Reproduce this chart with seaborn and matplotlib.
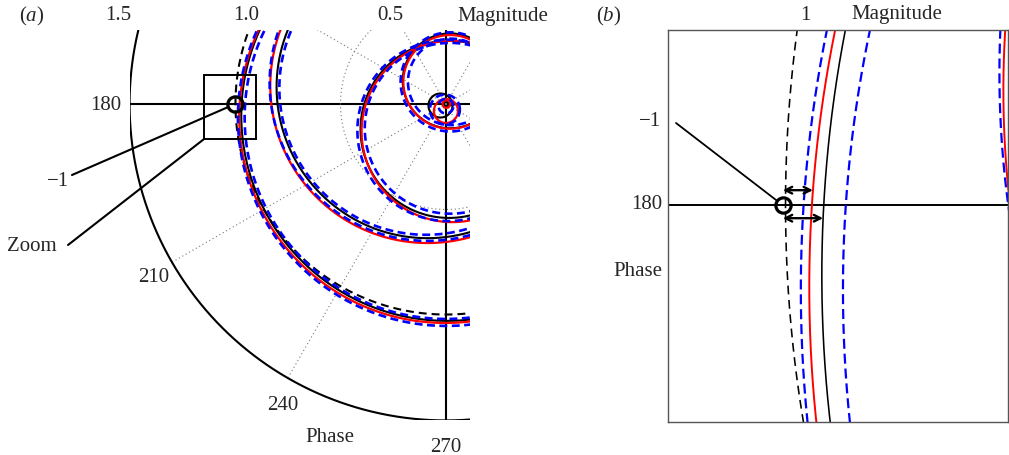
import numpy as np
import pandas as pd
import matplotlib
matplotlib.use("Agg")
import matplotlib.pyplot as plt
from matplotlib.patches import Rectangle
import seaborn as sns

sns.set_style("white")
plt.rcParams["font.family"] = ["Liberation Serif", "DejaVu Serif"]
plt.rcParams["mathtext.fontset"] = "custom"
plt.rcParams["mathtext.rm"] = "Liberation Serif"
plt.rcParams["mathtext.it"] = "Liberation Serif:italic"

# Nyquist loops: centre x, centre y, radius (magnitude units)
# loops in order: outer, second, third, fourth, small, tiny
red_cx = [-0.004, -0.087, 0.03, 0.02, 0.0, 0.002]
red_cy = [-0.062, 0.087, -0.13, 0.105, -0.033, 0.0]
red_r = [0.976, 0.746, 0.43, 0.222, 0.057, 0.018]

black_cx = [0.0045, -0.087, 0.015, 0.02, -0.026, 0.0]
black_cy = [-0.053, 0.08, -0.12, 0.11, -0.007, 0.0]
black_r = [0.975, 0.716, 0.42, 0.225, 0.057, 0.012]

blue_out_cx = [0.0016, -0.087, 0.01, 0.02, -0.005]
blue_out_cy = [-0.064, 0.10, -0.125, 0.105, -0.026]
blue_out_r = [0.988, 0.749, 0.43, 0.235, 0.071]

blue_in_cx = [0.0005, -0.095, 0.02, 0.025, 0.0]
blue_in_cy = [-0.064, 0.075, -0.115, 0.105, -0.01]
blue_in_r = [0.955, 0.695, 0.405, 0.205, 0.035]

unit_radius = [0.998]          # black dashed ring |L| = 1

outer_radius = 1.5
grid_radii = [0.5]
grid_angles = [30, 60, 120, 150, 210, 240, 300, 330]

view_a_x = [-1.498, 0.114]
view_a_y = [-1.498, 0.351]
view_b_x = [-1.087, -0.8295]
view_b_y = [-0.164, 0.1326]
zoom_x = [-1.147, -0.902]
zoom_y = [-0.166, 0.137]
arrow_y = [0.0114, -0.0098]    # upper arrow to red loop, lower to black loop

W, H = 1009, 455


def loops(cx, cy, r):
    t = np.linspace(0, 2 * np.pi, 1441)
    frames = []
    for i, (x0, y0, rr) in enumerate(zip(cx, cy, r)):
        frames.append(pd.DataFrame({"x": x0 + rr * np.cos(t),
                                    "y": y0 + rr * np.sin(t), "loop": i}))
    return pd.concat(frames, ignore_index=True)


red_df = loops(red_cx, red_cy, red_r)
black_df = loops(black_cx, black_cy, black_r)
blue_df = loops(blue_out_cx + blue_in_cx, blue_out_cy + blue_in_cy, blue_out_r + blue_in_r)
unit_df = loops([0.0], [0.0], unit_radius)


def draw_curves(ax, lw_k, lw_r, lw_b, dash_k, dash_b):
    kw = dict(x="x", y="y", units="loop", estimator=None, sort=False, legend=False, ax=ax)
    sns.lineplot(data=black_df, color="black", lw=lw_k, **kw)
    sns.lineplot(data=unit_df, color="black", lw=lw_k, linestyle=(0, dash_k), **kw)
    sns.lineplot(data=red_df, color="red", lw=lw_r, **kw)
    sns.lineplot(data=blue_df, color="blue", lw=lw_b, linestyle=(0, dash_b), **kw)
    ax.plot([-1], [0], marker="o", ms=11, mfc="none", mec="black", mew=2.3, zorder=6)


fig = plt.figure(figsize=(W / 100, H / 100), dpi=100)
ax_a = fig.add_axes([130 / W, 35 / H, 340 / W, 390 / H])
ax_b = fig.add_axes([668 / W, 33 / H, 340 / W, 392 / H])

# ---- panel (a): polar grid
t = np.linspace(0, 2 * np.pi, 721)
for rg in grid_radii:
    ax_a.plot(rg * np.cos(t), rg * np.sin(t), color="#777777", lw=0.8, ls=(0, (1, 2.5)))
for ang in grid_angles:
    a = np.deg2rad(ang)
    ax_a.plot([0, outer_radius * np.cos(a)], [0, outer_radius * np.sin(a)],
              color="#777777", lw=0.8, ls=(0, (1, 2.5)))
ax_a.plot(outer_radius * np.cos(t), outer_radius * np.sin(t), color="black", lw=1.5)
ax_a.axvline(0, color="black", lw=1.5, zorder=1)
ax_a.axhline(0, color="black", lw=1.5, zorder=1)

draw_curves(ax_a, 1.5, 1.6, 1.9, (3.8, 2.4), (3.0, 1.7))
ax_a.add_patch(Rectangle((zoom_x[0], zoom_y[0]), zoom_x[1] - zoom_x[0], zoom_y[1] - zoom_y[0],
                         fill=False, ec="black", lw=1.4, zorder=5))
ax_a.set_xlim(view_a_x)
ax_a.set_ylim(view_a_y)
ax_a.axis("off")

ax_a.annotate("", xy=(-1, 0), xytext=(72 / W, 1 - 175 / H), textcoords="figure fraction",
              arrowprops=dict(arrowstyle="-", color="black", lw=1.5, shrinkA=0, shrinkB=6))
ax_a.annotate("", xy=(zoom_x[0], zoom_y[0]), xytext=(68 / W, 1 - 245 / H),
              textcoords="figure fraction",
              arrowprops=dict(arrowstyle="-", color="black", lw=1.5, shrinkA=0, shrinkB=0))

# ---- panel (b): zoom near -1
ax_b.axhline(0, color="black", lw=1.4, zorder=1)
draw_curves(ax_b, 1.15, 1.4, 1.6, (5.5, 3.5), (4.5, 2.2))
x_red = red_cx[0] - np.sqrt(red_r[0] ** 2 - (arrow_y[0] - red_cy[0]) ** 2)
x_blk = black_cx[0] - np.sqrt(black_r[0] ** 2 - (arrow_y[1] - black_cy[0]) ** 2)
for yy, xe in zip(arrow_y, [x_red, x_blk]):
    ax_b.annotate("", xy=(xe, yy), xytext=(-1, yy),
                  arrowprops=dict(arrowstyle="<->", color="black", lw=1.7,
                                  mutation_scale=12, shrinkA=0, shrinkB=0), zorder=7)
ax_b.annotate("", xy=(-1, 0), xytext=(676 / W, 1 - 123 / H), textcoords="figure fraction",
              arrowprops=dict(arrowstyle="-", color="black", lw=1.3, shrinkA=0, shrinkB=6))
ax_b.set_xlim(view_b_x)
ax_b.set_ylim(view_b_y)
ax_b.set(xticks=[], yticks=[], xlabel="", ylabel="")
for sp in ax_b.spines.values():
    sp.set_color("#555555")
    sp.set_linewidth(1.0)


def label(x, y, s, ha="center"):
    fig.text(x / W, 1 - y / H, s, fontsize=15, ha=ha, va="center")


label(32, 16, "$(a)$")
for xp, s in zip([118, 246, 390], ["1.5", "1.0", "0.5"]):
    label(xp, 16, s)
label(457, 16, "Magnitude", ha="left")
label(121, 105, "180", ha="right")
label(58, 182, "\u22121")
label(32, 247, "Zoom")
label(154, 278, "210")
label(283, 405, "240")
label(330, 437, "Phase")
label(446, 447, "270")

label(609, 16, "$(b)$")
label(805, 15, "1")
label(851, 15, "Magnitude", ha="left")
label(650, 121, "\u22121")
label(662, 205, "180", ha="right")
label(662, 272, "Phase", ha="right")

fig.savefig("out.png", dpi=100)
